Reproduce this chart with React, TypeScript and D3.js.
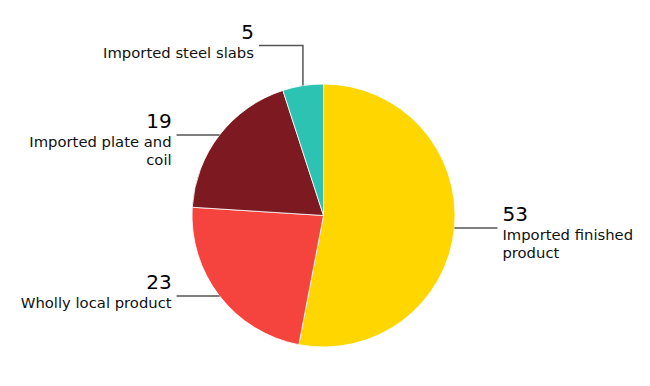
import {useEffect, useRef} from 'react';
import * as d3 from 'd3';

const categories = ["Imported finished product", "Wholly local product", "Imported plate and coil", "Imported steel slabs"];
const values = [53, 23, 19, 5];
const labelLines = [["Imported finished", "product"], ["Wholly local product"], ["Imported plate and", "coil"], ["Imported steel slabs"]];
const colors = ["#ffd600", "#f5443d", "#7d1921", "#2cc3b3"];

const App = () => {
    const ref = useRef(null);

    useEffect(() => {
        const width = 650;
        const height = 386;
        const cx = 323.5;
        const cy = 215.5;
        const radius = 131.5;

        d3.select(ref.current).selectAll("*").remove();

        const svg = d3.select(ref.current)
            .append('svg')
            .attr('width', width)
            .attr('height', height)
            .style('position', 'absolute')
            .style('left', 0)
            .style('top', 0)
            .style('font-family', '"DejaVu Sans", sans-serif');

        const g = svg.append('g').attr('transform', `translate(${cx},${cy})`);

        const pie = d3.pie<number>().sort(null).value(d => d);
        const arcs = pie(values);
        const arc = d3.arc<d3.PieArcDatum<number>>().innerRadius(0).outerRadius(radius);
        const edge = d3.arc<d3.PieArcDatum<number>>().innerRadius(radius).outerRadius(radius);

        g.selectAll('path.slice')
            .data(arcs)
            .enter().append('path')
            .attr('class', 'slice')
            .attr('d', arc)
            .attr('fill', (d, i) => colors[i])
            .attr('stroke', '#fff')
            .attr('stroke-width', 0.8);

        arcs.forEach((d, i) => {
            const [x0, y0] = edge.centroid(d);
            const mid = (d.startAngle + d.endAngle) / 2;
            const side = Math.sin(mid) >= 0 ? 1 : -1;
            let points: [number, number][];
            if (Math.abs(Math.sin(mid)) < 0.5) {
                // near the top: go up first, then sideways
                points = [[x0, y0], [x0, y0 - 40], [x0 + side * 44, y0 - 40]];
            } else {
                points = [[x0, y0], [x0 + side * 43, y0]];
            }
            g.append('path')
                .attr('d', d3.line()(points))
                .attr('fill', 'none')
                .attr('stroke', '#555')
                .attr('stroke-width', 1.5);

            const [ex, ey] = points[points.length - 1];
            const tx = ex + side * 5;
            const anchor = side > 0 ? 'start' : 'end';

            g.append('text')
                .attr('x', tx)
                .attr('y', ey - 7)
                .attr('text-anchor', anchor)
                .style('font-size', '20px')
                .attr('fill', '#000')
                .text(values[i]);

            const label = g.append('text')
                .attr('text-anchor', anchor)
                .style('font-size', '14.8px')
                .attr('fill', '#111')
                .attr('aria-label', categories[i]);
            labelLines[i].forEach((line, j) => {
                label.append('tspan')
                    .attr('x', tx)
                    .attr('y', ey + 12 + j * 18)
                    .text(line);
            });
        });
    }, []);

    return <div ref={ref}></div>;
};

export default App;
